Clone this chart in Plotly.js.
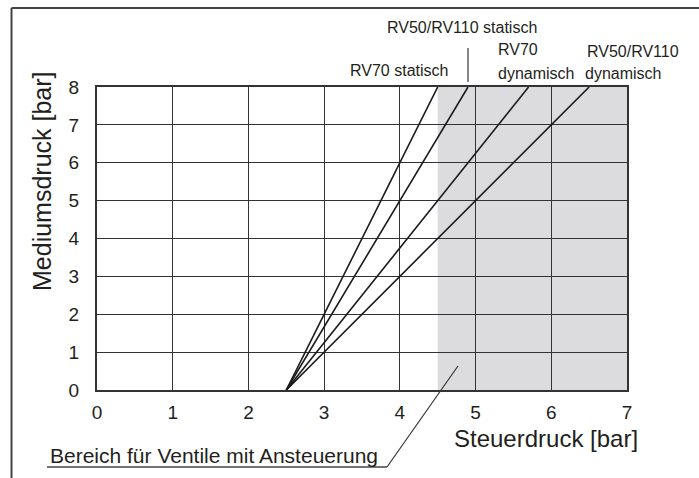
<!DOCTYPE html>
<html>
<head>
<meta charset="utf-8">
<script src="https://cdn.plot.ly/plotly-3.0.1.min.js"></script>
<style>html,body{margin:0;padding:0;background:#fff;}#chart{width:699px;height:478px;}</style>
</head>
<body>
<div id="chart"></div>
<script>
// ---- data ----
const seriesNames = ["RV70 statisch", "RV50/RV110 statisch", "RV70 dynamisch", "RV50/RV110 dynamisch"];
const startX = [2.5, 2.5, 2.5, 2.5];     // Steuerdruck at Mediumsdruck 0
const startY = [0, 0, 0, 0];
const endX = [4.5, 4.9, 5.7, 6.5];       // Steuerdruck at Mediumsdruck 8
const endY = [8, 8, 8, 8];
const shadeX = [4.5, 7];                 // Bereich für Ventile mit Ansteuerung
const shadeY = [0, 8];
const xTicks = [0, 1, 2, 3, 4, 5, 6, 7];
const yTicks = [0, 1, 2, 3, 4, 5, 6, 7, 8];

const FONT = "Liberation Sans, Arial, Helvetica, sans-serif";
const INK = "#231f20";

const traces = seriesNames.map((n, i) => ({
  type: "scatter", mode: "lines", name: n,
  x: [startX[i], endX[i]], y: [startY[i], endY[i]],
  line: {color: "#1a1a1a", width: 1.6},
  hoverinfo: "skip", showlegend: false
}));

const frame = {color: "#444", width: 2};
const leader = {color: "#333", width: 1.2};

const layout = {
  width: 699, height: 478,
  margin: {l: 97, r: 72, t: 87, b: 88},
  paper_bgcolor: "#fff", plot_bgcolor: "#fff",
  font: {family: FONT, color: INK, size: 18},
  showlegend: false,
  xaxis: {
    range: [xTicks[0], xTicks[xTicks.length - 1]],
    tickvals: xTicks, ticktext: xTicks.map(String),
    showgrid: true, gridcolor: "#333", gridwidth: 1,
    zeroline: false, showline: true, mirror: true, linecolor: "#333", linewidth: 2,
    ticks: "", ticklabelstandoff: 4,
    tickfont: {family: FONT, size: 19, color: INK}, fixedrange: true
  },
  yaxis: {
    range: [yTicks[0], yTicks[yTicks.length - 1]],
    tickvals: yTicks, ticktext: yTicks.map(String),
    showgrid: true, gridcolor: "#333", gridwidth: 1,
    zeroline: false, showline: true, mirror: true, linecolor: "#333", linewidth: 2,
    ticks: "", ticklabelstandoff: 12,
    tickfont: {family: FONT, size: 19, color: INK}, fixedrange: true
  },
  shapes: [
    {type: "rect", xref: "x", yref: "y", x0: shadeX[0], x1: shadeX[1], y0: shadeY[0], y1: shadeY[1],
     fillcolor: "#dcdcdf", line: {width: 0}, layer: "below"},
    // outer frame (left + top)
    {type: "line", xref: "paper", yref: "paper", x0: -0.1613, x1: -0.1613, y0: 1.2607, y1: -0.32, line: frame},
    {type: "line", xref: "paper", yref: "paper", x0: -0.1613, x1: 1.2, y0: 1.2607, y1: 1.2607, line: frame},
    // leader under the bottom label
    {type: "line", xref: "paper", yref: "paper", x0: -0.0943, x1: 0.5472, y0: -0.2541, y1: -0.2541, line: {color: "#444", width: 1.5}},
    {type: "line", xref: "paper", yref: "paper", x0: 0.5472, x1: 0.6811, y0: -0.2541, y1: 0.0792, line: leader},
    // leader at top for "RV50/RV110 statisch"
    {type: "line", xref: "paper", yref: "paper", x0: 0.7, x1: 0.7, y0: 1.0165, y1: 1.1287, line: leader}
  ],
  annotations: [
    {text: "RV50/RV110 statisch", xref: "paper", yref: "paper", x: 0.6896, y: 1.198, xanchor: "center", yanchor: "middle", showarrow: false, font: {size: 16}},
    {text: "RV70 statisch", xref: "paper", yref: "paper", x: 0.5689, y: 1.0561, xanchor: "center", yanchor: "middle", showarrow: false, font: {size: 16}},
    {text: "RV70", xref: "paper", yref: "paper", x: 0.7528, y: 1.1254, xanchor: "left", yanchor: "middle", showarrow: false, font: {size: 16}},
    {text: "dynamisch", xref: "paper", yref: "paper", x: 0.7528, y: 1.0462, xanchor: "left", yanchor: "middle", showarrow: false, font: {size: 16}},
    {text: "RV50/RV110", xref: "paper", yref: "paper", x: 0.9208, y: 1.1188, xanchor: "left", yanchor: "middle", showarrow: false, font: {size: 16}},
    {text: "dynamisch", xref: "paper", yref: "paper", x: 0.917, y: 1.0462, xanchor: "left", yanchor: "middle", showarrow: false, font: {size: 16}},
    {text: "Bereich für Ventile mit Ansteuerung", xref: "paper", yref: "paper", x: -0.0925, y: -0.2178, xanchor: "left", yanchor: "middle", showarrow: false, font: {size: 21}},
    {text: "Steuerdruck [bar]", xref: "paper", yref: "paper", x: 0.848, y: -0.1617, xanchor: "center", yanchor: "middle", showarrow: false, font: {size: 24}},
    {text: "Mediumsdruck [bar]", xref: "paper", yref: "paper", x: -0.1038, y: 0.6898, xanchor: "center", yanchor: "middle", textangle: -90, showarrow: false, font: {size: 25}}
  ]
};

Plotly.newPlot("chart", traces, layout, {staticPlot: true, displayModeBar: false});
</script>
</body>
</html>
